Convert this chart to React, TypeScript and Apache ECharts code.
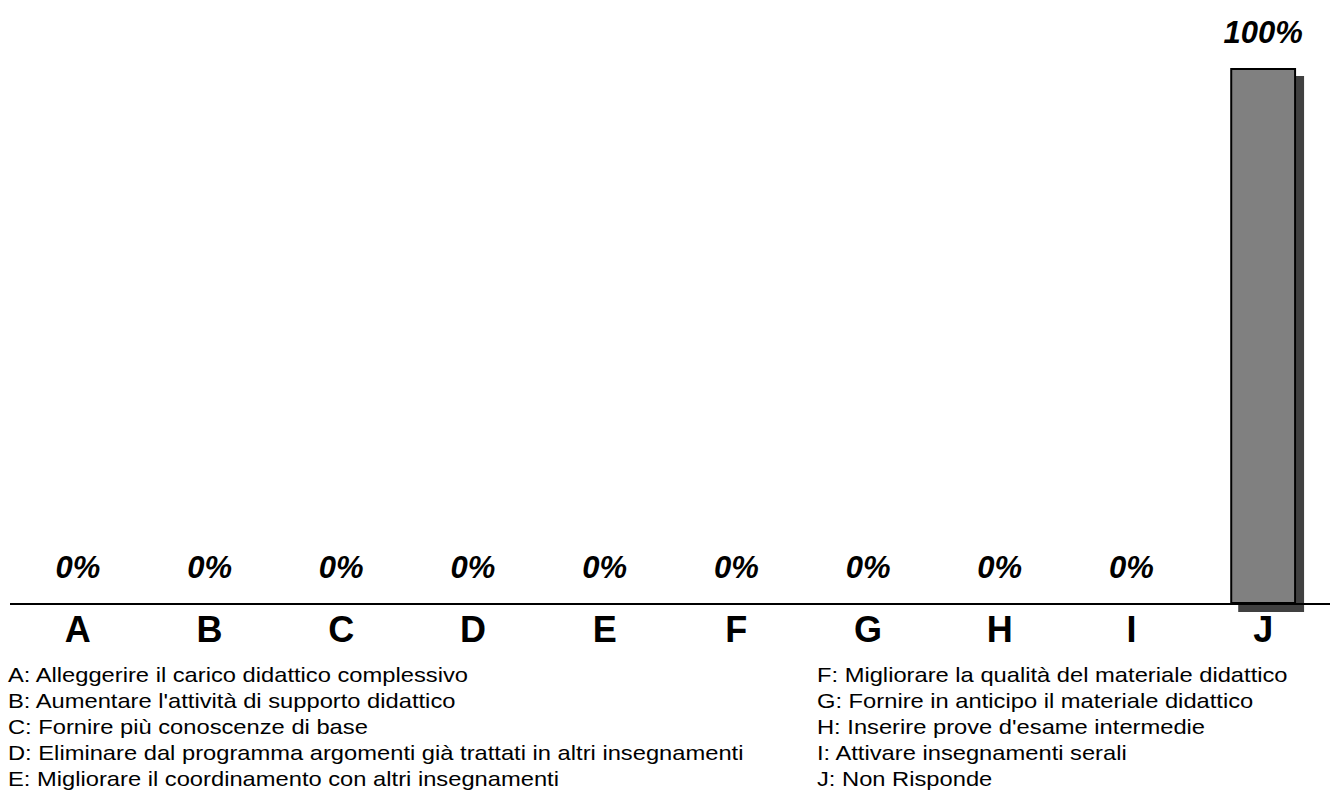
import React, { useEffect, useRef } from "react";
import * as echarts from "echarts";

const categories = ["A", "B", "C", "D", "E", "F", "G", "H", "I", "J"];
const values = [0, 0, 0, 0, 0, 0, 0, 0, 0, 100];
const legendLeft = [
  "A: Alleggerire il carico didattico complessivo",
  "B: Aumentare l'attività di supporto didattico",
  "C: Fornire più conoscenze di base",
  "D: Eliminare dal programma argomenti già trattati in altri insegnamenti",
  "E: Migliorare il coordinamento con altri insegnamenti",
];
const legendRight = [
  "F: Migliorare la qualità del materiale didattico",
  "G: Fornire in anticipo il materiale didattico",
  "H: Inserire prove d'esame intermedie",
  "I: Attivare insegnamenti serali",
  "J: Non Risponde",
];

const FONT = "'Liberation Sans', Arial, sans-serif";

export default function App() {
  const ref = useRef<HTMLDivElement>(null);
  useEffect(() => {
    document.body.style.margin = "0";
    const chart = echarts.init(ref.current!, null, { renderer: "svg" });
    const legendTexts: any[] = [];
    const addCol = (arr: string[], x: number) => {
      arr.forEach((t, i) => {
        legendTexts.push({
          type: "text",
          x,
          y: 675 + i * 26,
          scaleX: 1.13,
          style: { text: t, font: `21px ${FONT}`, fill: "#000", verticalAlign: "middle" },
        });
      });
    };
    addCol(legendLeft, 8);
    addCol(legendRight, 817);
    chart.setOption({
      animation: false,
      backgroundColor: "#fff",
      grid: { left: 12, right: 1, top: 68, bottom: 192, containLabel: false },
      xAxis: {
        type: "category",
        data: categories,
        axisTick: { show: false },
        axisLine: { show: false },
        axisLabel: {
          color: "#000",
          fontFamily: FONT,
          fontWeight: "bold",
          fontSize: 36,
          margin: 7,
        },
      },
      yAxis: {
        type: "value",
        min: 0,
        max: 100,
        show: false,
        splitLine: { show: false },
      },
      series: [
        {
          type: "bar",
          data: values,
          barWidth: "50%",
          itemStyle: {
            color: "#808080",
            borderColor: "#000",
            borderWidth: 2,
            shadowColor: "#404040",
            shadowOffsetX: 8,
            shadowOffsetY: 8,
            shadowBlur: 0,
          },
          label: {
            show: true,
            position: "top",
            distance: 20,
            formatter: "{c}%",
            color: "#000",
            fontFamily: FONT,
            fontWeight: "bold",
            fontStyle: "italic",
            fontSize: 31,
          },
        },
      ],
      graphic: [
        {
          type: "line",
          shape: { x1: 10, y1: 604, x2: 1330, y2: 604 },
          style: { stroke: "#000", lineWidth: 2 },
          z: 100,
        },
        ...legendTexts,
      ],
    });
    return () => chart.dispose();
  }, []);
  return <div ref={ref} style={{ width: 1330, height: 796 }} />;
}
